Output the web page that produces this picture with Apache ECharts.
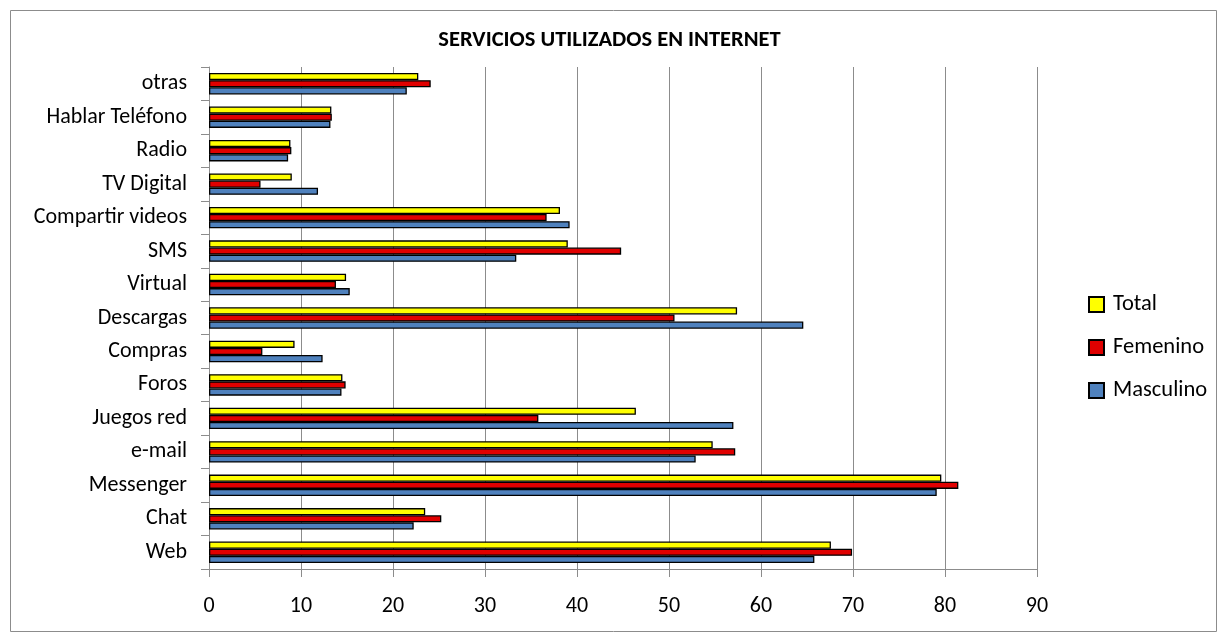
<!DOCTYPE html>
<html><head><meta charset="utf-8">
<script src="https://cdn.jsdelivr.net/npm/echarts@6/dist/echarts.min.js"></script>
<style>html,body{margin:0;padding:0;background:#fff}#c{width:1219px;height:639px}</style>
</head><body><div id="c"></div>
<script>
const categories = ['Web','Chat','Messenger','e-mail','Juegos red','Foros','Compras','Descargas','Virtual','SMS','Compartir videos','TV Digital','Radio','Hablar Teléfono','otras'];
const total     = [67.6, 23.5, 79.6, 54.75, 46.4, 14.5, 9.3, 57.4, 14.9, 39.0, 38.15, 9.0, 8.85, 13.3, 22.75];
const femenino  = [69.9, 25.25, 81.45, 57.2, 35.8, 14.85, 5.8, 50.6, 13.8, 44.8, 36.7, 5.6, 8.95, 13.35, 24.1];
const masculino = [65.8, 22.25, 79.1, 52.9, 57.0, 14.4, 12.35, 64.6, 15.3, 33.4, 39.2, 11.85, 8.6, 13.2, 21.5];
const xTicks = [0,10,20,30,40,50,60,70,80,90];

const FONT = 'Carlito, Lato, "Open Sans", sans-serif';
const chart = echarts.init(document.getElementById('c'), null, {renderer:'canvas'});
const mk = (name, data, color) => ({
  name, type:'bar', data, barGap:'0%', barCategoryGap:'36%',
  itemStyle:{color, borderColor:'#000', borderWidth:1.3},
  emphasis:{disabled:true}, animation:false
});
chart.setOption({
  animation:false,
  title:{text:'SERVICIOS UTILIZADOS EN INTERNET', left:'center', top:29, padding:0,
    textStyle:{fontFamily:FONT, fontSize:22.5, fontWeight:'bold', color:'#000'}},
  graphic:[{type:'rect', shape:{x:10.5,y:10.5,width:1206,height:621}, style:{fill:'none', stroke:'#8c8c8c', lineWidth:1}, silent:true}],
  legend:{orient:'vertical', left:1088, top:293, padding:0, itemWidth:15, itemHeight:15, itemGap:20,
    data:['Total','Femenino','Masculino'], icon:'rect',
    textStyle:{fontFamily:FONT, fontSize:22.5, lineHeight:20, color:'#000', padding:[0,0,0,4]}},
  grid:{left:209, right:182, top:67, bottom:70},
  xAxis:{type:'value', min:0, max:90, interval:10,
    axisLine:{show:true, lineStyle:{color:'#8c8c8c'}},
    axisTick:{show:true, length:8, lineStyle:{color:'#8c8c8c'}},
    axisLabel:{fontFamily:FONT, fontSize:22, color:'#000', margin:26,
      formatter:v => xTicks.includes(v) ? String(v) : ''},
    splitLine:{show:true, lineStyle:{color:'#8c8c8c', width:1}}},
  yAxis:{type:'category', data:categories,
    axisLine:{show:true, lineStyle:{color:'#8c8c8c'}},
    axisTick:{show:true, length:8, lineStyle:{color:'#8c8c8c'}},
    axisLabel:{fontFamily:FONT, fontSize:22, color:'#000', margin:22}},
  series:[mk('Total', total, '#FFFF00'), mk('Femenino', femenino, '#E00000'), mk('Masculino', masculino, '#4F81BD')]
});
</script></body></html>
